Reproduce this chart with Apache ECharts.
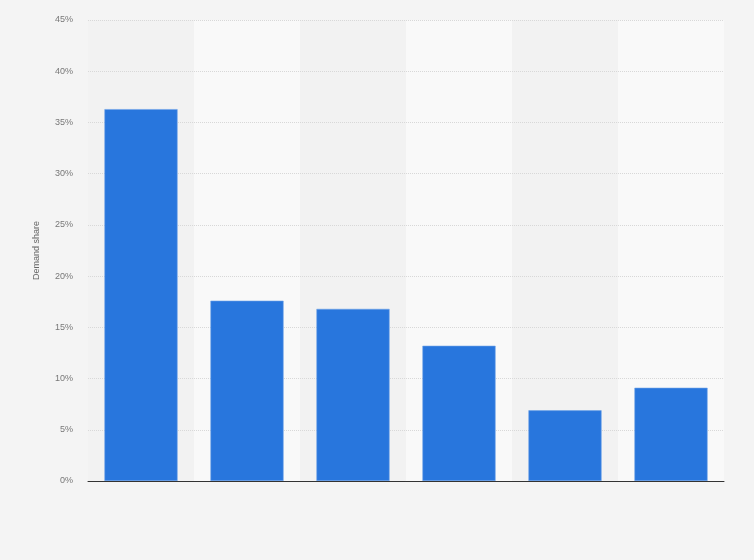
<!DOCTYPE html>
<html>
<head>
<meta charset="utf-8">
<script src="https://cdn.jsdelivr.net/npm/echarts@6/dist/echarts.min.js"></script>
<style>
html,body{margin:0;padding:0;background:#f4f4f4;}
#chart{width:754px;height:560px;}
</style>
</head>
<body>
<div id="chart"></div>
<script>
const categories = ['A', 'B', 'C', 'D', 'E', 'F'];
const demandShare = [36.3, 17.6, 16.8, 13.2, 6.9, 9.1];
const yTicks = { min: 0, max: 45, interval: 5 };

const chart = echarts.init(document.getElementById('chart'));
chart.setOption({
  backgroundColor: '#f4f4f4',
  animation: false,
  grid: { left: 88, right: 30, top: 20, bottom: 79 },
  xAxis: [{
    type: 'category',
    data: categories,
    z: 1,
    axisLine: { show: false },
    axisTick: { show: false },
    axisLabel: { show: false },
    splitArea: { show: true, areaStyle: { color: ['#f2f2f2', '#f9f9f9'] } }
  }, {
    type: 'category',
    data: categories,
    position: 'bottom',
    z: 4,
    axisLine: { show: true, lineStyle: { color: '#333', width: 1 } },
    axisTick: { show: false },
    axisLabel: { show: false },
    splitArea: { show: false },
    splitLine: { show: false }
  }],
  yAxis: {
    type: 'value',
    z: 2,
    min: yTicks.min, max: yTicks.max, interval: yTicks.interval,
    name: 'Demand share',
    nameLocation: 'middle',
    nameGap: 47,
    nameTextStyle: { color: '#666', fontSize: 9, fontFamily: 'Arial, Liberation Sans, sans-serif' },
    axisLine: { show: false },
    axisTick: { show: false },
    axisLabel: { color: '#777', fontSize: 9, margin: 15, formatter: '{value}%', fontFamily: 'Arial, Liberation Sans, sans-serif' },
    splitLine: { show: true, lineStyle: { color: '#d8d8d8', type: [1, 1], width: 1 } }
  },
  series: [{
    type: 'bar',
    z: 3,
    xAxisIndex: 0,
    data: demandShare,
    barWidth: '69%',
    itemStyle: { color: '#2876dd', borderColor: '#6ea2e8', borderWidth: 0.6 }
  }]
});
</script>
</body>
</html>
